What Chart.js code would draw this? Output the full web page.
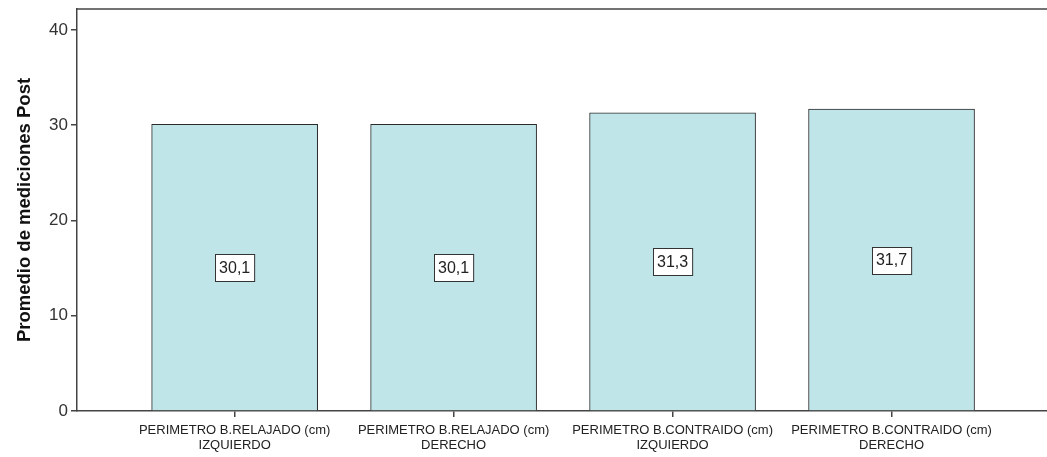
<!DOCTYPE html>
<html>
<head>
<meta charset="utf-8">
<script src="https://cdn.jsdelivr.net/npm/chart.js@4"></script>
<style>
    html, body { margin: 0; padding: 0; background: #ffffff; }
    #wrap { width: 1047px; height: 457px; }
</style>
</head>
<body>
<div id="wrap"><canvas id="postChart" width="1047" height="457"></canvas></div>
<script>
// Values
const categories = [
    ['PERIMETRO B.RELAJADO (cm)', 'IZQUIERDO'],
    ['PERIMETRO B.RELAJADO (cm)', 'DERECHO'],
    ['PERIMETRO B.CONTRAIDO (cm)', 'IZQUIERDO'],
    ['PERIMETRO B.CONTRAIDO (cm)', 'DERECHO']
];
const promedioPost = [30.1, 30.1, 31.3, 31.7];
const yTicks = [0, 10, 20, 30, 40];
const yTitle = 'Promedio de mediciones Post';

const axisColor = '#444444';
const fontFamily = '"Liberation Sans", Arial, sans-serif';

// boxed value labels in the middle of each bar
const valueBoxes = {
    id: 'valueBoxes',
    afterDatasetsDraw(chart) {
        const ctx = chart.ctx;
        const yScale = chart.scales.y;
        const meta = chart.getDatasetMeta(0);
        ctx.save();
        ctx.font = '16px ' + fontFamily;
        ctx.textAlign = 'center';
        ctx.textBaseline = 'middle';
        meta.data.forEach((bar, i) => {
            const v = promedioPost[i];
            const text = v.toFixed(1).replace('.', ',');
            const cy = yScale.getPixelForValue(v / 2);
            const w = ctx.measureText(text).width + 8;
            const h = 27;
            const x0 = Math.round(bar.x - w / 2) + 0.5;
            const y0 = Math.round(cy - h / 2) + 0.5;
            ctx.fillStyle = '#ffffff';
            ctx.fillRect(x0, y0, w, h);
            ctx.strokeStyle = '#333333';
            ctx.lineWidth = 1;
            ctx.strokeRect(x0, y0, w, h);
            ctx.fillStyle = '#222222';
            ctx.fillText(text, bar.x, cy + 1);
        });
        ctx.restore();
    }
};

// top frame line of the plot
const topFrame = {
    id: 'topFrame',
    afterDraw(chart) {
        const a = chart.chartArea;
        const ctx = chart.ctx;
        ctx.save();
        ctx.strokeStyle = axisColor;
        ctx.lineWidth = 1.5;
        ctx.beginPath();
        ctx.moveTo(a.left, a.top);
        ctx.lineTo(chart.width, a.top);
        ctx.stroke();
        ctx.restore();
    }
};

new Chart(document.getElementById('postChart').getContext('2d'), {
    type: 'bar',
    data: {
        datasets: [{
            data: promedioPost.map((v, i) => ({ x: i, y: v })),
            backgroundColor: '#bfe5e8',
            borderColor: '#2a2a2a',
            borderWidth: 1,
            barThickness: 166
        }]
    },
    options: {
        responsive: false,
        animation: false,
        layout: { padding: { top: 9, left: 14, right: 0, bottom: 0 } },
        plugins: {
            legend: { display: false },
            tooltip: { enabled: false }
        },
        scales: {
            x: {
                type: 'linear',
                offset: false,
                min: -0.72,
                max: 3.71,
                afterBuildTicks: axis => { axis.ticks = categories.map((_, i) => ({ value: i })); },
                afterFit: axis => { axis.height = 46; axis.paddingLeft = 0; axis.paddingRight = 0; },
                grid: { offset: false, drawOnChartArea: false, drawTicks: true, tickLength: 6, color: axisColor, lineWidth: 1.5 },
                border: { color: axisColor, width: 1.5 },
                ticks: {
                    padding: 6,
                    maxRotation: 0,
                    autoSkip: false,
                    color: '#222222',
                    font: { family: fontFamily, size: 13, lineHeight: 1.15 },
                    callback: value => categories[value]
                }
            },
            y: {
                min: 0,
                max: 42.2,
                afterBuildTicks: axis => { axis.ticks = yTicks.map(v => ({ value: v })); },
                afterFit: axis => { axis.width = 63; axis.paddingTop = 0; axis.paddingBottom = 0; },
                grid: { drawOnChartArea: false, drawTicks: true, tickLength: 6, color: axisColor, lineWidth: 1.5 },
                border: { color: axisColor, width: 1.5 },
                ticks: {
                    padding: 3,
                    color: '#333333',
                    font: { family: fontFamily, size: 17 }
                },
                title: {
                    display: true,
                    text: yTitle,
                    color: '#111111',
                    padding: { top: 0, bottom: 8 },
                    font: { family: fontFamily, size: 18.5, weight: 'bold' }
                }
            }
        }
    },
    plugins: [valueBoxes, topFrame]
});
</script>
</body>
</html>
